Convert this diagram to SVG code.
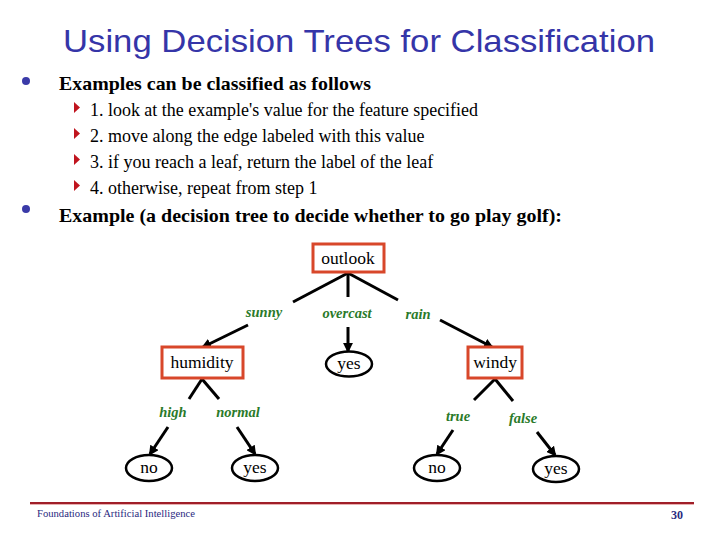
<svg xmlns="http://www.w3.org/2000/svg" width="720" height="540" viewBox="0 0 720 540">
<style>
.title{font-family:"Liberation Sans",Arial,sans-serif;font-size:32px;fill:#3535a8;}
.b1{font-family:"Liberation Serif","Times New Roman",serif;font-size:19.5px;font-weight:bold;fill:#000;}
.b2{font-family:"Liberation Serif","Times New Roman",serif;font-size:18px;fill:#000;}
.node{font-family:"Liberation Serif","Times New Roman",serif;font-size:17.5px;fill:#000;text-anchor:middle;}
.lbl{font-family:"Liberation Serif","Times New Roman",serif;font-size:14.5px;font-weight:bold;font-style:italic;fill:#2a7a2a;text-anchor:middle;}
.box{fill:#fff;stroke:#d8472a;stroke-width:3;}
.leaf{fill:#fff;stroke:#000;stroke-width:2.5;}
.edge{stroke:#000;stroke-width:3;fill:none;}
.arr{stroke:#000;stroke-width:3;fill:none;marker-end:url(#ah);}
.foot{font-family:"Liberation Serif","Times New Roman",serif;fill:#2a2a80;}
</style>
<defs>
<marker id="ah" viewBox="0 0 10 10" refX="8" refY="5" markerWidth="3.3" markerHeight="3.3" orient="auto" markerUnits="strokeWidth">
<path d="M0,0 L10,5 L0,10 z" fill="#000"/>
</marker>
</defs>
<rect width="720" height="540" fill="#fff"/>
<text class="title" x="359" y="52" text-anchor="middle" textLength="592" lengthAdjust="spacingAndGlyphs">Using Decision Trees for Classification</text>
<g id="bullets">
<circle cx="26" cy="81" r="4" fill="#3a3aa8"/>
<text class="b1" x="59" y="90" textLength="312" lengthAdjust="spacingAndGlyphs">Examples can be classified as follows</text>
<path d="M74,102 L80,107.5 L74,113 z" fill="#c0141e"/>
<text class="b2" x="90" y="116" textLength="388" lengthAdjust="spacingAndGlyphs">1. look at the example's value for the feature specified</text>
<path d="M74,128 L80,133.5 L74,139 z" fill="#c0141e"/>
<text class="b2" x="90" y="142">2. move along the edge labeled with this value</text>
<path d="M74,154 L80,159.5 L74,165 z" fill="#c0141e"/>
<text class="b2" x="90" y="168">3. if you reach a leaf, return the label of the leaf</text>
<path d="M74,180 L80,185.5 L74,191 z" fill="#c0141e"/>
<text class="b2" x="90" y="194">4. otherwise, repeat from step 1</text>
<circle cx="26" cy="209" r="4" fill="#3a3aa8"/>
<text class="b1" x="59" y="222" textLength="503" lengthAdjust="spacingAndGlyphs">Example (a decision tree to decide whether to go play golf):</text>
</g>
<g id="connectors">
<line class="edge" x1="348" y1="273" x2="293" y2="302"/>
<line class="edge" x1="348" y1="273" x2="348" y2="297"/>
<line class="edge" x1="348" y1="273" x2="398" y2="300"/>
<line class="arr" x1="248" y1="325" x2="203" y2="347"/>
<line class="arr" x1="348" y1="327" x2="348" y2="351"/>
<line class="arr" x1="440" y1="320" x2="492" y2="347"/>
<line class="edge" x1="202" y1="379" x2="189" y2="399"/>
<line class="edge" x1="202" y1="379" x2="219" y2="399"/>
<line class="arr" x1="168" y1="427" x2="150" y2="454"/>
<line class="arr" x1="237" y1="427" x2="255" y2="454"/>
<line class="edge" x1="495" y1="379" x2="474" y2="400"/>
<line class="edge" x1="495" y1="379" x2="513" y2="401"/>
<line class="arr" x1="453" y1="430" x2="437" y2="454"/>
<line class="arr" x1="537" y1="432" x2="555" y2="455"/>
<text class="lbl" x="264" y="317">sunny</text>
<text class="lbl" x="347" y="318">overcast</text>
<text class="lbl" x="418" y="319">rain</text>
<text class="lbl" x="173" y="417">high</text>
<text class="lbl" x="238" y="417">normal</text>
<text class="lbl" x="458" y="421">true</text>
<text class="lbl" x="523" y="423">false</text>
</g>
<g id="n-outlook"><rect class="box" x="313" y="244" width="71" height="28"/><text class="node" x="348" y="264">outlook</text></g>
<g id="n-humidity"><rect class="box" x="162" y="347" width="81" height="31"/><text class="node" x="202" y="368">humidity</text></g>
<g id="n-yes1"><ellipse class="leaf" cx="349" cy="364" rx="23" ry="12.5"/><text class="node" x="349" y="369">yes</text></g>
<g id="n-windy"><rect class="box" x="468" y="347" width="54" height="31"/><text class="node" x="495" y="368">windy</text></g>
<g id="n-no1"><ellipse class="leaf" cx="149" cy="468" rx="23" ry="13"/><text class="node" x="149" y="473">no</text></g>
<g id="n-yes2"><ellipse class="leaf" cx="255" cy="468" rx="23" ry="13"/><text class="node" x="255" y="473">yes</text></g>
<g id="n-no2"><ellipse class="leaf" cx="437" cy="468" rx="23" ry="13"/><text class="node" x="437" y="473">no</text></g>
<g id="n-yes3"><ellipse class="leaf" cx="556" cy="469" rx="23" ry="13"/><text class="node" x="556" y="474">yes</text></g>
<g id="footer">
<line x1="30" y1="503" x2="694" y2="503" stroke="#a01e28" stroke-width="2"/>
<line x1="30" y1="504.5" x2="694" y2="504.5" stroke="#e8b0b0" stroke-width="1"/>
<text class="foot" x="37" y="517" font-size="10" textLength="158" lengthAdjust="spacingAndGlyphs">Foundations of Artificial Intelligence</text>
<text class="foot" x="683" y="519" font-size="12" font-weight="bold" text-anchor="end">30</text>
</g>
</svg>
